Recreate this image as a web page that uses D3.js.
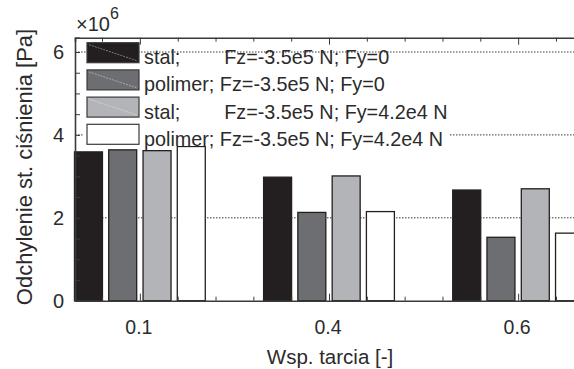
<!DOCTYPE html>
<html>
<head>
<meta charset="utf-8">
<script src="https://cdn.jsdelivr.net/npm/d3@7"></script>
<style>
  body { margin: 0; background: #fff; }
  svg { display: block; font-family: "Liberation Sans", Arial, sans-serif; }
  .lbl { fill: #2b2b2b; }
</style>
</head>
<body>
<div id="chart"></div>
<script>
// ---- data (values in 1e6 Pa) ----
const categories = ["0.1", "0.4", "0.6"];
const stalFy0 = [3.59, 2.98, 2.67];
const polimerFy0 = [3.64, 2.13, 1.53];
const stalFy42 = [3.62, 3.01, 2.70];
const polimerFy42 = [3.72, 2.15, 1.63];
const seriesNames = [
  "stal;        Fz=-3.5e5 N; Fy=0",
  "polimer; Fz=-3.5e5 N; Fy=0",
  "stal;        Fz=-3.5e5 N; Fy=4.2e4 N",
  "polimer; Fz=-3.5e5 N; Fy=4.2e4 N"
];
const seriesColors = ["#231f20", "#6d6e71", "#b3b4b7", "#ffffff"];
const yTicks = [0, 2, 4, 6];

const series = [stalFy0, polimerFy0, stalFy42, polimerFy42];

const width = 574, height = 369;
const plot = { left: 75, right: 583, top: 37.7, bottom: 300.7 };

const svg = d3.select("#chart").append("svg")
  .attr("width", width)
  .attr("height", height);

// ---- scales ----
const x = d3.scaleLinear().domain([-0.343, 2.343]).range([plot.left, plot.right]);
const y = d3.scaleLinear().domain([0, 6.345]).range([plot.bottom, plot.top]);
const offsets = [-0.2718, -0.0908, 0.0908, 0.2718];
const barW = 0.148;

// ---- grid (dotted) ----
svg.append("g")
  .selectAll("line")
  .data(yTicks.filter(d => d > 0))
  .join("line")
  .attr("x1", plot.left).attr("x2", plot.right)
  .attr("y1", d => y(d)).attr("y2", d => y(d))
  .attr("stroke", "#3a3a3a")
  .attr("stroke-width", 1)
  .attr("stroke-dasharray", "1.5,1.5");

// ---- bars ----
const bars = [];
series.forEach((vals, s) => vals.forEach((v, i) => bars.push({ s, i, v })));

svg.append("g")
  .selectAll("rect")
  .data(bars)
  .join("rect")
  .attr("x", d => x(d.i + offsets[d.s] - barW / 2))
  .attr("y", d => y(d.v))
  .attr("width", d => x(barW) - x(0))
  .attr("height", d => y(0) - y(d.v))
  .attr("fill", d => seriesColors[d.s])
  .attr("stroke", "#231f20")
  .attr("stroke-width", 1.3);

// ---- axes (ticks inward, matlab style) ----
const xMinor = d3.range(-0.2, 2.35, 0.2).map(d => +d.toFixed(2));
const axes = svg.append("g").attr("stroke", "#3a3a3a");

axes.append("g")
  .attr("transform", `translate(0,${plot.top})`)
  .call(d3.axisTop(x).tickValues(xMinor).tickSize(-4).tickFormat(""))
  .call(g => g.selectAll(".tick line")
    .filter(d => Math.abs(d - Math.round(d)) < 1e-6).attr("y2", 7));

axes.append("g")
  .attr("transform", `translate(0,${plot.bottom})`)
  .call(d3.axisBottom(x).tickValues(xMinor).tickSize(-4).tickFormat(""))
  .call(g => g.selectAll(".tick line")
    .filter(d => Math.abs(d - Math.round(d)) < 1e-6).attr("y2", -7));

axes.append("g")
  .attr("transform", `translate(${plot.left},0)`)
  .call(d3.axisLeft(y).tickValues(d3.range(0, 6.4, 0.5)).tickSize(-5).tickFormat(""));

axes.selectAll(".domain").attr("stroke", "#3a3a3a").attr("stroke-width", 1.6);
axes.selectAll(".tick line").attr("stroke", "#3a3a3a").attr("stroke-width", 1);

// ---- tick labels ----
svg.append("g")
  .selectAll("text")
  .data(yTicks)
  .join("text")
  .attr("class", "lbl")
  .attr("x", 64)
  .attr("y", d => y(d) + 7)
  .attr("text-anchor", "end")
  .attr("font-size", 20)
  .text(d => d);

svg.append("g")
  .selectAll("text")
  .data(categories)
  .join("text")
  .attr("class", "lbl")
  .attr("x", (d, i) => x(i) - 1)
  .attr("y", 334)
  .attr("text-anchor", "middle")
  .attr("font-size", 19.5)
  .text(d => d);

const expo = svg.append("text").attr("class", "lbl").attr("x", 76).attr("y", 31).attr("font-size", 20);
expo.append("tspan").text("×10");
expo.append("tspan").attr("dy", -12).attr("font-size", 16).text("6");

// ---- axis labels ----
svg.append("text")
  .attr("class", "lbl")
  .attr("x", 330)
  .attr("y", 364)
  .attr("text-anchor", "middle")
  .attr("font-size", 20.5)
  .text("Wsp. tarcia [-]");

svg.append("text")
  .attr("class", "lbl")
  .attr("transform", "rotate(-90)")
  .attr("x", -167)
  .attr("y", 32)
  .attr("text-anchor", "middle")
  .attr("font-size", 22)
  .text("Odchylenie st. ciśnienia [Pa]");

// ---- legend ----
svg.append("rect")
  .attr("x", 84).attr("y", 66).attr("width", 366).attr("height", 80)
  .attr("fill", "#fff");

const legend = svg.append("g")
  .selectAll("g")
  .data(seriesNames)
  .join("g")
  .attr("transform", (d, i) => `translate(87,${42.7 + i * 27.2})`);

legend.append("rect")
  .attr("width", 52).attr("height", 20)
  .attr("fill", (d, i) => seriesColors[i])
  .attr("stroke", "#3a3a3a")
  .attr("stroke-width", 1.2);

legend.append("line")
  .attr("x1", 2).attr("y1", 2).attr("x2", 50).attr("y2", 18)
  .attr("stroke", "#fff")
  .attr("stroke-opacity", 0.4)
  .attr("stroke-dasharray", "2,1");

legend.append("text")
  .attr("class", "lbl")
  .attr("x", 57)
  .attr("y", 21.5)
  .attr("font-size", 19.8)
  .style("white-space", "pre")
  .text(d => d);
</script>
</body>
</html>
